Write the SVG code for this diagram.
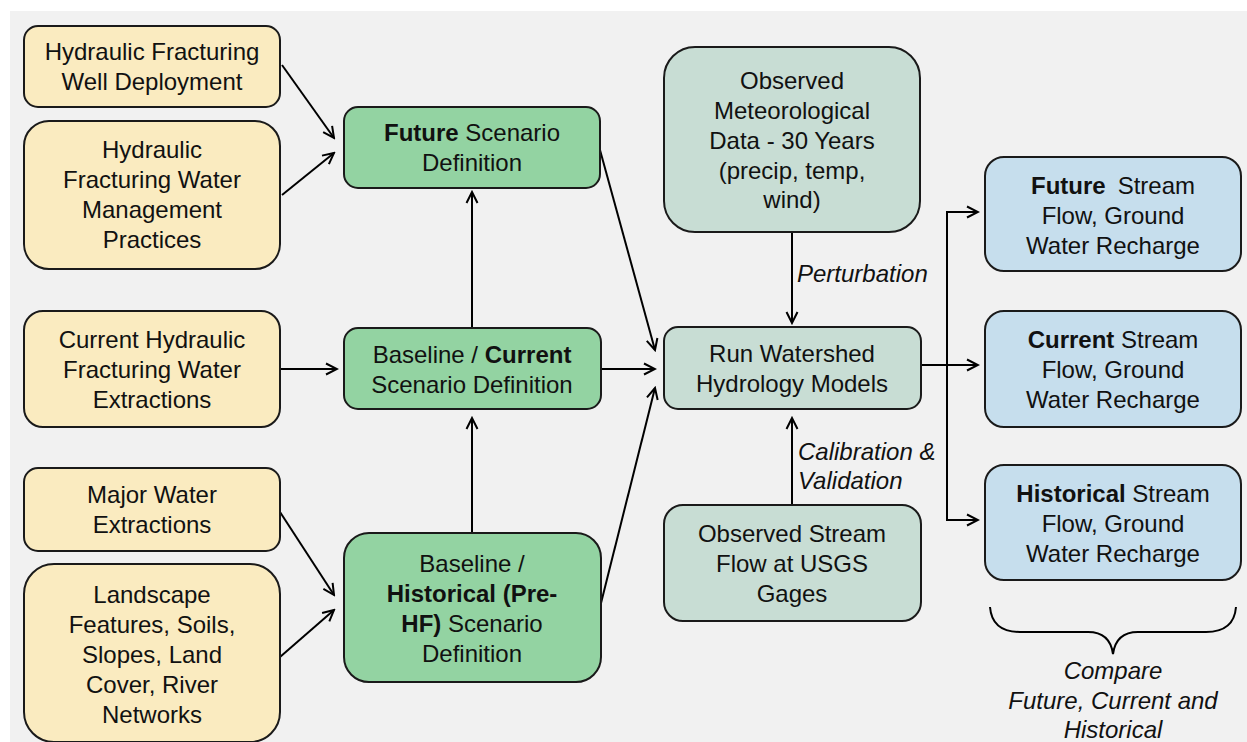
<svg xmlns="http://www.w3.org/2000/svg" width="1247" height="742" viewBox="0 0 1247 742">
<style>
.box{stroke:#1a1a1a;stroke-width:2}
.y{fill:#faebc0}
.g{fill:#93d3a2}
.t{fill:#c8ddd4}
.b{fill:#c6deed}
text{font-family:"Liberation Sans",Arial,sans-serif;font-size:24px;fill:#111;text-anchor:middle}
.lbl{font-style:italic;text-anchor:start}
.cmp{font-style:italic}
.bd{font-weight:bold}
.c{fill:none;stroke:#000;stroke-width:2}
</style>
<defs>
<marker id="ah" viewBox="0 0 14 14" refX="12" refY="7" markerWidth="14" markerHeight="14" markerUnits="userSpaceOnUse" orient="auto">
<path d="M1,1.5 L12,7 L1,12.5" fill="none" stroke="#000" stroke-width="2"/>
</marker>
</defs>
<rect x="0" y="0" width="1247" height="742" fill="#ffffff"/>
<rect x="10" y="11" width="1237" height="731" fill="#f1f1f1"/>

<g id="connectors" class="c">
<path d="M282,65 L334,138" marker-end="url(#ah)"/>
<path d="M282,195 L334,153" marker-end="url(#ah)"/>
<path d="M280,369 L337,369" marker-end="url(#ah)"/>
<path d="M280,512 L334,595" marker-end="url(#ah)"/>
<path d="M280,657 L334,610" marker-end="url(#ah)"/>
<path d="M472,328 L472,192" marker-end="url(#ah)"/>
<path d="M472,533 L472,418" marker-end="url(#ah)"/>
<path d="M600,150 L655,350" marker-end="url(#ah)"/>
<path d="M601,369 L655,369" marker-end="url(#ah)"/>
<path d="M600,607 L655,388" marker-end="url(#ah)"/>
<path d="M792,232 L792,323" marker-end="url(#ah)"/>
<path d="M792,505 L792,418" marker-end="url(#ah)"/>
<path d="M921,365 L978,365" marker-end="url(#ah)"/>
<path d="M947,212 L947,520"/>
<path d="M946,212 L978,212" marker-end="url(#ah)"/>
<path d="M946,520 L978,520" marker-end="url(#ah)"/>
<path d="M990,607 Q992,632 1020,632 L1088,632 Q1110,632 1113,654 Q1116,632 1138,632 L1206,632 Q1234,632 1236,607"/>
</g>

<g id="n-well">
<rect class="box y" x="24" y="26" width="256" height="81" rx="14"/>
<text x="152" y="60">Hydraulic Fracturing</text>
<text x="152" y="90">Well Deployment</text>
</g>
<g id="n-mgmt">
<rect class="box y" x="24" y="121" width="256" height="148" rx="25"/>
<text x="152" y="158">Hydraulic</text>
<text x="152" y="188">Fracturing Water</text>
<text x="152" y="218">Management</text>
<text x="152" y="248">Practices</text>
</g>
<g id="n-curhf">
<rect class="box y" x="24" y="311" width="256" height="116" rx="19"/>
<text x="152" y="348">Current Hydraulic</text>
<text x="152" y="378">Fracturing Water</text>
<text x="152" y="408">Extractions</text>
</g>
<g id="n-major">
<rect class="box y" x="24" y="468" width="256" height="83" rx="14"/>
<text x="152" y="503">Major Water</text>
<text x="152" y="533">Extractions</text>
</g>
<g id="n-land">
<rect class="box y" x="24" y="564" width="256" height="178" rx="30"/>
<text x="152" y="603">Landscape</text>
<text x="152" y="633">Features, Soils,</text>
<text x="152" y="663">Slopes, Land</text>
<text x="152" y="693">Cover, River</text>
<text x="152" y="723">Networks</text>
</g>

<g id="n-future">
<rect class="box g" x="344" y="107" width="256" height="81" rx="14"/>
<text x="472" y="141"><tspan class="bd">Future</tspan> Scenario</text>
<text x="472" y="171">Definition</text>
</g>
<g id="n-current">
<rect class="box g" x="344" y="328" width="257" height="81" rx="14"/>
<text x="472" y="363">Baseline / <tspan class="bd">Current</tspan></text>
<text x="472" y="393">Scenario Definition</text>
</g>
<g id="n-hist">
<rect class="box g" x="344" y="533" width="257" height="149" rx="25"/>
<text x="472" y="572">Baseline /</text>
<text x="472" y="602" class="bd">Historical (Pre-</text>
<text x="472" y="632"><tspan class="bd">HF)</tspan> Scenario</text>
<text x="472" y="662">Definition</text>
</g>

<g id="n-met">
<rect class="box t" x="664" y="47" width="256" height="185" rx="31"/>
<text x="792" y="89">Observed</text>
<text x="792" y="119">Meteorological</text>
<text x="792" y="149">Data - 30 Years</text>
<text x="792" y="179">(precip, temp,</text>
<text x="792" y="208">wind)</text>
</g>
<g id="n-run">
<rect class="box t" x="664" y="327" width="257" height="82" rx="14"/>
<text x="792" y="362">Run Watershed</text>
<text x="792" y="392">Hydrology Models</text>
</g>
<g id="n-obs">
<rect class="box t" x="664" y="505" width="257" height="116" rx="19"/>
<text x="792" y="542">Observed Stream</text>
<text x="792" y="572">Flow at USGS</text>
<text x="792" y="602">Gages</text>
</g>

<g id="labels">
<text class="lbl" x="797" y="282">Perturbation</text>
<text class="lbl" x="798" y="460">Calibration &amp;</text>
<text class="lbl" x="798" y="489">Validation</text>
</g>

<g id="n-fut-out">
<rect class="box b" x="985" y="157" width="256" height="114" rx="19"/>
<text x="1113" y="194"><tspan class="bd">Future</tspan><tspan dx="12">Stream</tspan></text>
<text x="1113" y="224">Flow, Ground</text>
<text x="1113" y="254">Water Recharge</text>
</g>
<g id="n-cur-out">
<rect class="box b" x="985" y="311" width="256" height="116" rx="19"/>
<text x="1113" y="348"><tspan class="bd">Current</tspan> Stream</text>
<text x="1113" y="378">Flow, Ground</text>
<text x="1113" y="408">Water Recharge</text>
</g>
<g id="n-his-out">
<rect class="box b" x="985" y="465" width="256" height="115" rx="19"/>
<text x="1113" y="502"><tspan class="bd">Historical</tspan> Stream</text>
<text x="1113" y="532">Flow, Ground</text>
<text x="1113" y="562">Water Recharge</text>
</g>

<g id="compare">
<text class="cmp" x="1113" y="679">Compare</text>
<text class="cmp" x="1113" y="709">Future, Current and</text>
<text class="cmp" x="1113" y="738">Historical</text>
</g>
</svg>
